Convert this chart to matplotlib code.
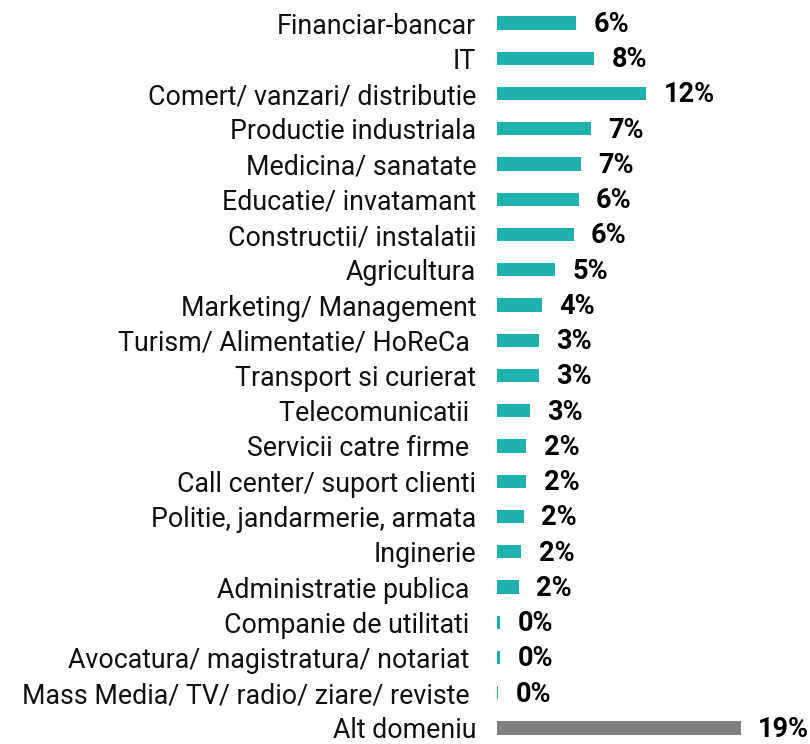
import matplotlib
matplotlib.use("Agg")
import matplotlib.pyplot as plt

categories = [
    "Financiar-bancar", "IT", "Comert/ vanzari/ distributie", "Productie industriala",
    "Medicina/ sanatate", "Educatie/ invatamant", "Constructii/ instalatii", "Agricultura",
    "Marketing/ Management", "Turism/ Alimentatie/ HoReCa ", "Transport si curierat",
    "Telecomunicatii ", "Servicii catre firme ", "Call center/ suport clienti",
    "Politie, jandarmerie, armata", "Inginerie", "Administratie publica ",
    "Companie de utilitati ", "Avocatura/ magistratura/ notariat ",
    "Mass Media/ TV/ radio/ ziare/ reviste ", "Alt domeniu",
]
values = [6.2, 7.6, 11.7, 7.4, 6.6, 6.4, 6.0, 4.55, 3.55, 3.3, 3.3, 2.55, 2.3, 2.3,
          2.1, 1.9, 1.7, 0.25, 0.25, 0.1, 19.1]
teal = "#20B1AE"
grey = "#808080"
colors = [teal] * (len(values) - 1) + [grey]

plt.rcParams["font.family"] = ["Roboto", "DejaVu Sans"]

fig = plt.figure(figsize=(8.1, 7.44), dpi=100)
W, H = 810, 744
ax = fig.add_axes([497 / W, 0, 300 / W, 1])

ypos = list(range(len(categories)))
ax.barh(ypos, values, height=0.37, color=colors)

# row spacing in pixels, first row centre at 23 px from the top
step = 35.25
ax.set_xlim(0, 300 / 12.75)
ax.set_ylim((H - 23) / step, -23 / step)

for y, v in zip(ypos, values):
    ax.annotate(f"{round(v):.0f}%", xy=(v, y), xytext=(12.5, -1),
                textcoords="offset points", ha="left", va="center",
                fontsize=19.5, fontweight="bold", color="black")

ax.set_yticks(ypos)
ax.set_yticklabels(categories, fontsize=19.3, color="#111111")
ax.tick_params(axis="y", length=0, pad=15)
ax.set_xticks([])
for s in ax.spines.values():
    s.set_visible(False)

fig.savefig("out.png", dpi=100)
